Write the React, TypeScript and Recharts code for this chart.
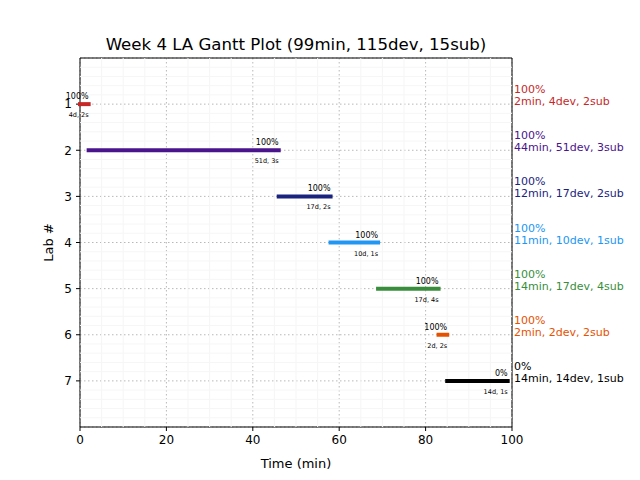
import React from 'react';
import {
  ScatterChart,
  Scatter,
  XAxis,
  YAxis,
  CartesianGrid,
  ReferenceLine,
  ReferenceArea,
} from 'recharts';

const title = 'Week 4 LA Gantt Plot (99min, 115dev, 15sub)';
const labs = [1, 2, 3, 4, 5, 6, 7];
const starts = [0, 2, 46, 58, 69, 83, 85];
const durations = [2, 44, 12, 11, 14, 2, 14];
const percents = ['100%', '100%', '100%', '100%', '100%', '100%', '0%'];
const devs = [4, 51, 17, 10, 17, 2, 14];
const subs = [2, 3, 2, 1, 4, 2, 1];
const colors = ['#c62828', '#4a148c', '#1a237e', '#2196f3', '#388e3c', '#e65100', '#000000'];

const xTicks = [0, 20, 40, 60, 80, 100];
const yTicks = [1, 2, 3, 4, 5, 6, 7];
const xMinor = [5, 10, 15, 25, 30, 35, 45, 50, 55, 65, 70, 75, 85, 90, 95];
const yMinor: number[] = [];
for (let i = 0; i < 8; i++) {
  for (const f of [0.2, 0.4, 0.6, 0.8]) yMinor.push(i + f);
}

const FONT = 'DejaVu Sans';

const series = labs.map((lab, i) => ({
  lab,
  color: colors[i],
  data: [
    { x: starts[i], y: lab, end: false, i },
    { x: starts[i] + durations[i], y: lab, end: true, i },
  ],
}));

const rightData = labs.map((lab, i) => ({ x: 100, y: lab, i }));

const EndShape = (p: any) => {
  if (!p.payload || !p.payload.end) return <g />;
  const i = p.payload.i;
  return (
    <g fontFamily={FONT}>
      <text x={p.cx} y={p.cy - 5} textAnchor="end" fontSize={8} fill="#000">
        {percents[i]}
      </text>
      <text x={p.cx} y={p.cy + 13} textAnchor="end" fontSize={6.5} fill="#000">
        {`${devs[i]}d, ${subs[i]}s`}
      </text>
    </g>
  );
};

const RightShape = (p: any) => {
  const i = p.payload.i;
  return (
    <g fontFamily={FONT} fill={colors[i]}>
      <text x={p.cx + 2} y={p.cy - 11} fontSize={11}>
        {percents[i]}
      </text>
      <text x={p.cx + 2} y={p.cy + 1} fontSize={11}>
        {`${durations[i]}min, ${devs[i]}dev, ${subs[i]}sub`}
      </text>
    </g>
  );
};

const XLabel = (props: any) => {
  const vb = props.viewBox || {};
  return (
    <text x={vb.x + vb.width / 2} y={468} textAnchor="middle" fontSize={13} fontFamily={FONT} fill="#000">
      Time (min)
    </text>
  );
};

const YLabel = (props: any) => {
  const vb = props.viewBox || {};
  const cy = vb.y + vb.height / 2;
  const cx = 48;
  return (
    <text
      x={cx}
      y={cy}
      transform={`rotate(-90 ${cx} ${cy})`}
      textAnchor="middle"
      dominantBaseline="central"
      fontSize={13}
      fontFamily={FONT}
      fill="#000"
    >
      Lab #
    </text>
  );
};

export default function App() {
  return (
    <div style={{ position: 'absolute', left: 0, top: 0, width: 640, height: 480, background: '#fff' }}>
      <div
        style={{
          position: 'absolute',
          left: 80,
          width: 432,
          top: 35,
          textAlign: 'center',
          fontFamily: FONT,
          fontSize: 16.6,
          lineHeight: '20px',
          color: '#000',
        }}
      >
        {title}
      </div>
      <ScatterChart width={640} height={480} margin={{ top: 58, right: 128, bottom: 0, left: 0 }}>
        {xMinor.map((v) => (
          <ReferenceLine key={'xm' + v} x={v} stroke="#f5f5f5" strokeWidth={1} />
        ))}
        {yMinor.map((v) => (
          <ReferenceLine key={'ym' + v} y={v} stroke="#f6f6f6" strokeWidth={1} />
        ))}
        <CartesianGrid stroke="#b8b8b8" strokeDasharray="1.5 2.5" />
        <XAxis
          type="number"
          dataKey="x"
          domain={[0, 100]}
          ticks={xTicks}
          height={53}
          axisLine={false}
          tickLine={{ stroke: '#000' }}
          tickSize={4}
          tickMargin={4}
          tick={{ fill: '#000', fontSize: 12, fontFamily: FONT }}
          label={<XLabel />}
        />
        <YAxis
          type="number"
          dataKey="y"
          domain={[0, 8]}
          reversed
          ticks={yTicks}
          width={80}
          axisLine={false}
          tickLine={{ stroke: '#000' }}
          tickSize={4}
          tickMargin={4}
          tick={{ fill: '#000', fontSize: 12, fontFamily: FONT }}
          label={<YLabel />}
        />
        {series.map((s) => (
          <Scatter
            key={s.lab}
            data={s.data}
            line={{ stroke: s.color, strokeWidth: 4, strokeLinecap: 'square' } as any}
            lineType="joint"
            shape={EndShape}
            isAnimationActive={false}
          />
        ))}
        <Scatter data={rightData} shape={RightShape} isAnimationActive={false} />
        <ReferenceArea x1={0} x2={100} y1={0} y2={8} stroke="#000" strokeWidth={1} fill="none" fillOpacity={0} />
      </ScatterChart>
    </div>
  );
}
